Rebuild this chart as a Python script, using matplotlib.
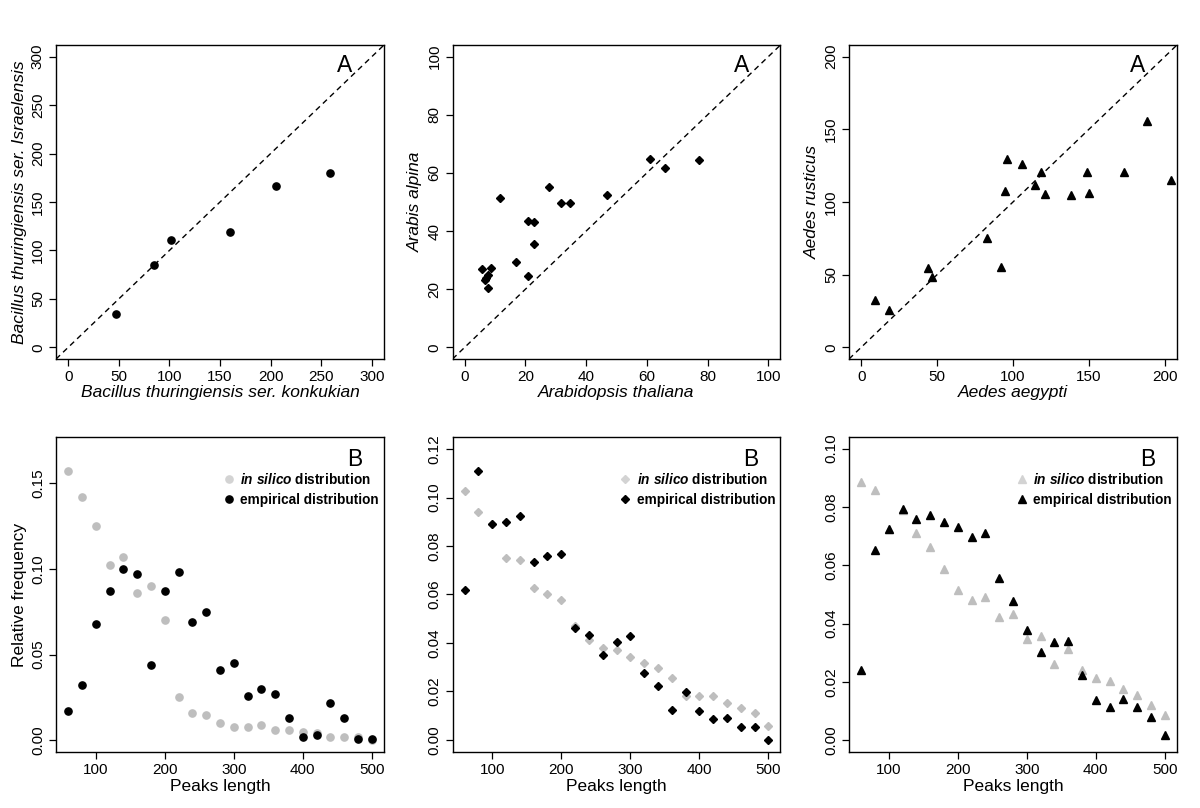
"""
Peak length comparison: pairwise species scatter (A) and peak length distributions (B).
"""

import matplotlib

matplotlib.use('Agg')
import matplotlib.pyplot as plt
import numpy as np
from matplotlib.lines import Line2D

plt.rcParams['font.family'] = ['Liberation Sans', 'DejaVu Sans']
plt.rcParams['mathtext.fontset'] = 'custom'
plt.rcParams['mathtext.it'] = 'Liberation Sans:italic:bold'
plt.rcParams['mathtext.rm'] = 'Liberation Sans:bold'

# --- top row: pairwise scatter (A) ---
bt_konkukian = [47, 85, 102, 160, 205, 259]
bt_israelensis = [34, 85, 111, 119, 167, 180]

a_thaliana = [11.8, 27.7, 31.6, 34.8, 46.8, 20.7, 22.7, 22.7, 16.8, 20.7,
              5.7, 8.8, 7.8, 7.1, 6.6, 7.8, 61.0, 66.1, 77.1]
a_alpina = [51.3, 55.0, 49.7, 49.7, 52.4, 43.6, 43.1, 35.6, 29.5, 24.7,
            27.0, 27.2, 25.0, 24.0, 23.1, 20.4, 64.9, 61.7, 64.6]

ae_aegypti = [8.9, 18.4, 44.3, 46.5, 82.6, 91.9, 94.8, 95.9, 105.9, 114.7,
              118.7, 121.1, 138.2, 149.0, 150.2, 173.4, 188.5, 204.4]
ae_rusticus = [32.3, 25.8, 54.9, 48.7, 75.2, 55.1, 107.5, 129.4, 126.4, 111.4,
               120.4, 105.2, 104.5, 120.4, 106.3, 120.4, 155.5, 115.3]

# --- bottom row: relative frequency by peak length (B) ---
peak_len = list(range(60, 501, 20))

bt_silico = [0.157, 0.142, 0.125, 0.102, 0.107, 0.086, 0.090, 0.070, 0.025, 0.016,
             0.015, 0.010, 0.008, 0.008, 0.009, 0.006, 0.006, 0.005, 0.004, 0.002,
             0.002, 0.002, 0.000]
bt_empirical = [0.017, 0.032, 0.068, 0.087, 0.100, 0.097, 0.044, 0.087, 0.098, 0.069,
                0.075, 0.041, 0.045, 0.026, 0.030, 0.027, 0.013, 0.002, 0.003, 0.022,
                0.013, 0.0005, 0.0005]

ar_silico = [0.1028, 0.0942, 0.0890, 0.0750, 0.0741, 0.0626, 0.0603, 0.0577, 0.0472, 0.0414,
             0.0381, 0.0372, 0.0341, 0.0319, 0.0295, 0.0255, 0.0183, 0.0181, 0.0182, 0.0152,
             0.0130, 0.0110, 0.0058]
ar_empirical = [0.0619, 0.1109, 0.0892, 0.0901, 0.0924, 0.0735, 0.0760, 0.0767, 0.0463, 0.0433,
                0.0349, 0.0403, 0.0429, 0.0277, 0.0221, 0.0123, 0.0199, 0.0121, 0.0086, 0.0090,
                0.0055, 0.0055, 0.0000]

ae_silico = [0.0885, 0.0857, 0.0725, 0.0790, 0.0710, 0.0664, 0.0586, 0.0514, 0.0480, 0.0493,
             0.0422, 0.0432, 0.0349, 0.0357, 0.0263, 0.0313, 0.0242, 0.0213, 0.0205, 0.0177,
             0.0154, 0.0122, 0.0088]
ae_empirical = [0.0240, 0.0652, 0.0726, 0.0794, 0.0758, 0.0772, 0.0747, 0.0733, 0.0696, 0.0712,
                0.0558, 0.0477, 0.0378, 0.0304, 0.0336, 0.0342, 0.0225, 0.0138, 0.0115, 0.0141,
                0.0115, 0.0079, 0.0017]

GRAY = '#bebebe'
LEGEND_GRAY = '#d3d3d3'

# panel boxes in figure fractions (left, bottom, width, height)
COLS = [0.0467, 0.3771, 0.7075]
WIDTH = 0.2733
TOP_ROW = (0.5557, 0.3886)
BOTTOM_ROW = (0.0693, 0.3899)


def _style(ax, xticks, yticks, yfmt=None):
    ax.set_xticks(xticks)
    ax.set_yticks(yticks)
    if yfmt is not None:
        ax.set_yticklabels([yfmt.format(v) for v in yticks])
    ax.tick_params(direction='out', length=5, width=0.9, labelsize=11, pad=3)
    ax.tick_params(axis='y', labelrotation=90)
    for lab in ax.get_yticklabels():
        lab.set_va('center')
    for sp in ax.spines.values():
        sp.set_linewidth(1.0)


def _scatter_panel(ax, x, y, marker, ms, lim, ticks, xlabel, ylabel):
    ax.plot(x, y, linestyle='none', marker=marker, ms=ms, color='black', mec='black')
    ax.axline((0, 0), slope=1, color='black', lw=1.0, dashes=(4, 3))
    ax.set_xlim(*lim)
    ax.set_ylim(*lim)
    _style(ax, ticks, ticks)
    ax.set_xlabel(xlabel, fontsize=12.5, style='italic', labelpad=1)
    ax.set_ylabel(ylabel, fontsize=12.5, style='italic', labelpad=3)
    ax.text(0.88, 0.935, 'A', transform=ax.transAxes, fontsize=16.5, ha='center', va='center')


def _dist_panel(ax, silico, empirical, marker, ms, ylim, yticks, ylabel=None):
    ax.plot(peak_len, silico, linestyle='none', marker=marker, ms=ms, color=GRAY, mec=GRAY)
    ax.plot(peak_len, empirical, linestyle='none', marker=marker, ms=ms, color='black', mec='black')
    ax.set_xlim(42.4, 517.6)
    ax.set_ylim(*ylim)
    _style(ax, [100, 200, 300, 400, 500], yticks, '{:.2f}')
    ax.set_xlabel('Peaks length', fontsize=12.5, labelpad=1)
    if ylabel:
        ax.set_ylabel(ylabel, fontsize=12.5, labelpad=3)
    ax.text(0.91, 0.93, 'B', transform=ax.transAxes, fontsize=16.5, ha='center', va='center')
    handles = [
        Line2D([], [], linestyle='none', marker=marker, ms=ms, color=LEGEND_GRAY, mec=LEGEND_GRAY),
        Line2D([], [], linestyle='none', marker=marker, ms=ms, color='black', mec='black'),
    ]
    ax.legend(
        handles,
        [r'$\mathit{in\ silico}$ distribution', 'empirical distribution'],
        loc='upper left',
        bbox_to_anchor=(0.51, 0.89),
        frameon=False,
        borderaxespad=0,
        borderpad=0,
        handlelength=0.8,
        handletextpad=0.45,
        labelspacing=0.45,
        prop={'weight': 'bold', 'size': 9.8},
    )


def main() -> None:
    fig = plt.figure(figsize=(12, 8.08), dpi=100)

    axes_top = [fig.add_axes((c, TOP_ROW[0], WIDTH, TOP_ROW[1])) for c in COLS]
    axes_bot = [fig.add_axes((c, BOTTOM_ROW[0], WIDTH, BOTTOM_ROW[1])) for c in COLS]

    _scatter_panel(axes_top[0], bt_konkukian, bt_israelensis, 'o', 5.2, (-12, 312),
                   list(range(0, 301, 50)),
                   'Bacillus thuringiensis ser. konkukian', 'Bacillus thuringiensis ser. Israelensis')
    _scatter_panel(axes_top[1], a_thaliana, a_alpina, 'D', 3.6, (-4, 104),
                   list(range(0, 101, 20)), 'Arabidopsis thaliana', 'Arabis alpina')
    _scatter_panel(axes_top[2], ae_aegypti, ae_rusticus, '^', 6.0, (-8, 208),
                   list(range(0, 201, 50)), 'Aedes aegypti', 'Aedes rusticus')

    _dist_panel(axes_bot[0], bt_silico, bt_empirical, 'o', 5.2, (-0.0068, 0.1768),
                [0.0, 0.05, 0.10, 0.15], 'Relative frequency')
    _dist_panel(axes_bot[1], ar_silico, ar_empirical, 'D', 3.6, (-0.005, 0.125),
                [0.0, 0.02, 0.04, 0.06, 0.08, 0.10, 0.12])
    _dist_panel(axes_bot[2], ae_silico, ae_empirical, '^', 6.0, (-0.004, 0.104),
                [0.0, 0.02, 0.04, 0.06, 0.08, 0.10])

    fig.savefig('out.png', dpi=100)


if __name__ == '__main__':
    main()
